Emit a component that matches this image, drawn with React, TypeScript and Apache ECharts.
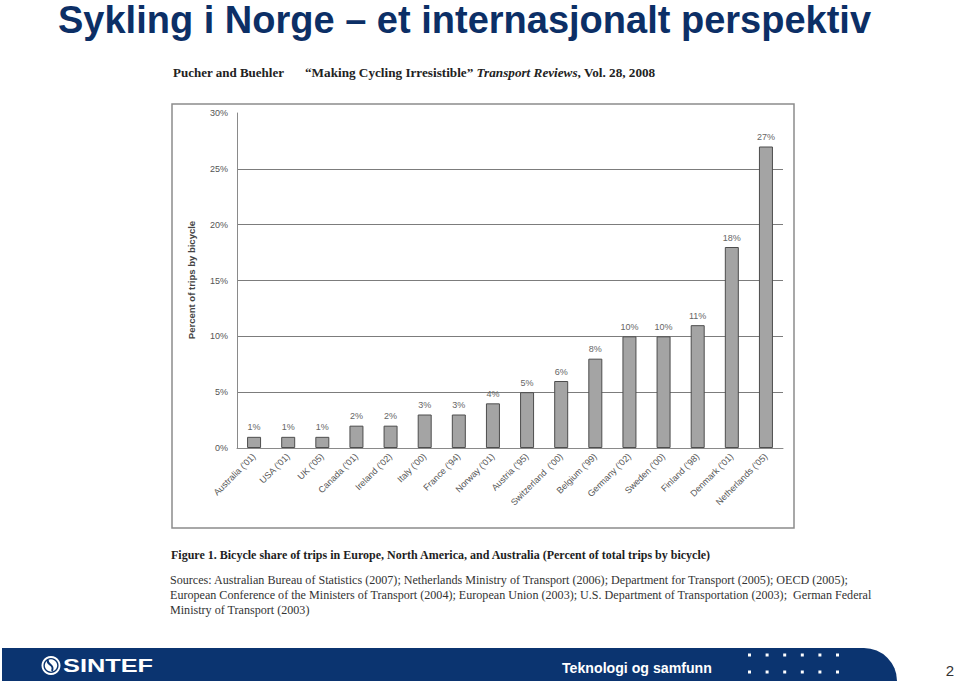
import React, { useEffect, useRef } from "react";
import * as echarts from "echarts";

const categories = [
  "Australia ('01)", "USA ('01)", "UK ('05)", "Canada ('01)", "Ireland ('02)",
  "Italy ('00)", "France ('94)", "Norway ('01)", "Austria ('95)", "Switzerland  ('00)",
  "Belgium ('99)", "Germany ('02)", "Sweden ('00)", "Finland ('98)", "Denmark ('01)",
  "Netherlands ('05)",
];
const bikeShare = [1, 1, 1, 2, 2, 3, 3, 4, 5, 6, 8, 10, 10, 11, 18, 27];
const yTicks = { min: 0, max: 30, interval: 5 };

const titleText = "Sykling i Norge – et internasjonalt perspektiv";
const headerAuthors = "Pucher and Buehler";
const yAxisName = "Percent of trips by bicycle";
const captionText =
  "Figure 1. Bicycle share of trips in Europe, North America, and Australia (Percent of total trips by bicycle)";
const sourceLines = [
  "Sources: Australian Bureau of Statistics (2007); Netherlands Ministry of Transport (2006); Department for Transport (2005); OECD (2005);",
  "European Conference of the Ministers of Transport (2004); European Union (2003); U.S. Department of Transportation (2003);  German Federal",
  "Ministry of Transport (2003)",
];
const footerText = "Teknologi og samfunn";
const pageNumber = "2";

const NAVY = "#0b3470";
const SANS = "'Liberation Sans', Arial, sans-serif";
const SERIF = "'Liberation Serif', 'Times New Roman', serif";

export default function App() {
  const ref = useRef<HTMLDivElement>(null);

  useEffect(() => {
    if (!ref.current) return;
    const chart = echarts.init(ref.current, undefined, { renderer: "svg" });

    const dots: any[] = [];
    for (let r = 0; r < 2; r++) {
      for (let c = 0; c < 6; c++) {
        dots.push({
          type: "rect",
          shape: { x: 748 + c * 17.6, y: 653.5 + r * 17, width: 3, height: 3 },
          style: { fill: "#ffffff" },
        });
      }
    }

    const option: any = {
      animation: false,
      backgroundColor: "#ffffff",
      textStyle: { fontFamily: SANS },
      grid: { left: 237, right: 177, top: 113, bottom: 236, containLabel: false },
      xAxis: {
        type: "category",
        data: categories,
        axisLine: { show: true, lineStyle: { color: "#8a8a8a", width: 1 } },
        axisTick: { show: false },
        axisLabel: {
          interval: 0,
          rotate: 45,
          fontSize: 9,
          color: "#555555",
          margin: 7,
          fontFamily: SANS,
        },
      },
      yAxis: {
        type: "value",
        min: yTicks.min,
        max: yTicks.max,
        interval: yTicks.interval,
        axisLine: { show: true, lineStyle: { color: "#8a8a8a", width: 1 } },
        axisTick: { show: false },
        axisLabel: {
          formatter: "{value}%",
          fontSize: 9,
          color: "#555555",
          margin: 9,
          fontFamily: SANS,
        },
        splitLine: {
          show: true,
          showMaxLine: false,
          showMinLine: false,
          lineStyle: { color: "#7c7c7c", width: 1 },
        },
      },
      series: [
        {
          type: "bar",
          data: bikeShare,
          barWidth: 14,
          itemStyle: { color: "#a4a4a4", borderColor: "#4d4d4d", borderWidth: 1 },
          label: {
            show: true,
            position: "top",
            distance: 5,
            formatter: "{c}%",
            fontSize: 9,
            color: "#666666",
            fontFamily: SANS,
          },
        },
      ],
      graphic: [
        // slide title
        {
          type: "text",
          x: 58,
          y: 20,
          style: {
            text: titleText,
            fontSize: 38,
            lineHeight: 36,
            fontWeight: "bold",
            fontFamily: SANS,
            fill: "#0c2f66",
            verticalAlign: "middle",
            align: "left",
          },
        },
        // header of scanned figure
        {
          type: "text",
          x: 173,
          y: 72,
          style: {
            text: headerAuthors,
            fontSize: 13,
            fontWeight: "bold",
            fontFamily: SERIF,
            fill: "#222222",
            verticalAlign: "middle",
          },
        },
        {
          type: "text",
          x: 305,
          y: 72,
          style: {
            text: "{b|“Making Cycling Irresistible” }{i|Transport Reviews}{b|, Vol. 28, 2008}",
            verticalAlign: "middle",
            rich: {
              b: { fontSize: 13.2, fontWeight: "bold", fontFamily: SERIF, fill: "#222222", color: "#222222" },
              i: {
                fontSize: 13.2,
                fontWeight: "bold",
                fontStyle: "italic",
                fontFamily: SERIF,
                fill: "#222222",
                color: "#222222",
              },
            },
          },
        },
        // figure frame
        {
          type: "rect",
          shape: { x: 172, y: 104, width: 622, height: 424 },
          style: { fill: "none", stroke: "#8c8c8c", lineWidth: 1.5 },
          z: -1,
        },
        // y axis name
        {
          type: "text",
          x: 191,
          y: 280,
          rotation: Math.PI / 2,
          style: {
            text: yAxisName,
            fontSize: 9.5,
            fontWeight: "bold",
            fontFamily: SANS,
            fill: "#444444",
            align: "center",
            verticalAlign: "middle",
          },
        },
        // caption
        {
          type: "text",
          x: 171,
          y: 555,
          style: {
            text: captionText,
            fontSize: 12,
            fontWeight: "bold",
            fontFamily: SERIF,
            fill: "#1e1e1e",
            verticalAlign: "middle",
          },
        },
        ...sourceLines.map((t, i) => ({
          type: "text",
          x: 170,
          y: 580 + i * 14.8,
          style: {
            text: t,
            fontSize: 12.1,
            fontFamily: SERIF,
            fill: "#333333",
            verticalAlign: "middle",
          },
        })),
        // footer band
        {
          type: "rect",
          shape: { x: 2, y: 648, width: 895, height: 33, r: [0, 33, 0, 0] },
          style: { fill: NAVY },
        },
        // logo
        { type: "circle", shape: { cx: 51, cy: 665.5, r: 9.5 }, style: { fill: "#ffffff" } },
        { type: "circle", shape: { cx: 51, cy: 665.5, r: 7.6 }, style: { fill: NAVY } },
        { type: "circle", shape: { cx: 51, cy: 665.5, r: 6.2 }, style: { fill: "#ffffff" } },
        {
          type: "bezierCurve",
          shape: { x1: 48, y1: 660, cpx1: 46, cpy1: 665, cpx2: 55, cpy2: 664, x2: 52, y2: 671 },
          style: { stroke: NAVY, lineWidth: 2, fill: "none" },
        },
        {
          type: "text",
          x: 63,
          y: 666,
          scaleX: 1.37,
          style: {
            text: "SINTEF",
            fontSize: 18.5,
            fontWeight: "bold",
            fontFamily: SANS,
            fill: "#ffffff",
            verticalAlign: "middle",
          },
        },
        {
          type: "text",
          x: 562,
          y: 667.5,
          scaleX: 0.944,
          style: {
            text: footerText,
            fontSize: 15,
            fontWeight: "bold",
            fontFamily: SANS,
            fill: "#ffffff",
            verticalAlign: "middle",
          },
        },
        ...dots,
        {
          type: "text",
          x: 950,
          y: 670,
          style: {
            text: pageNumber,
            fontSize: 15,
            fontFamily: SANS,
            fill: "#333333",
            align: "center",
            verticalAlign: "middle",
          },
        },
      ],
    };

    chart.setOption(option);
    return () => chart.dispose();
  }, []);

  return (
    <div
      ref={ref}
      style={{ position: "absolute", left: 0, top: 0, width: 960, height: 684 }}
    />
  );
}
